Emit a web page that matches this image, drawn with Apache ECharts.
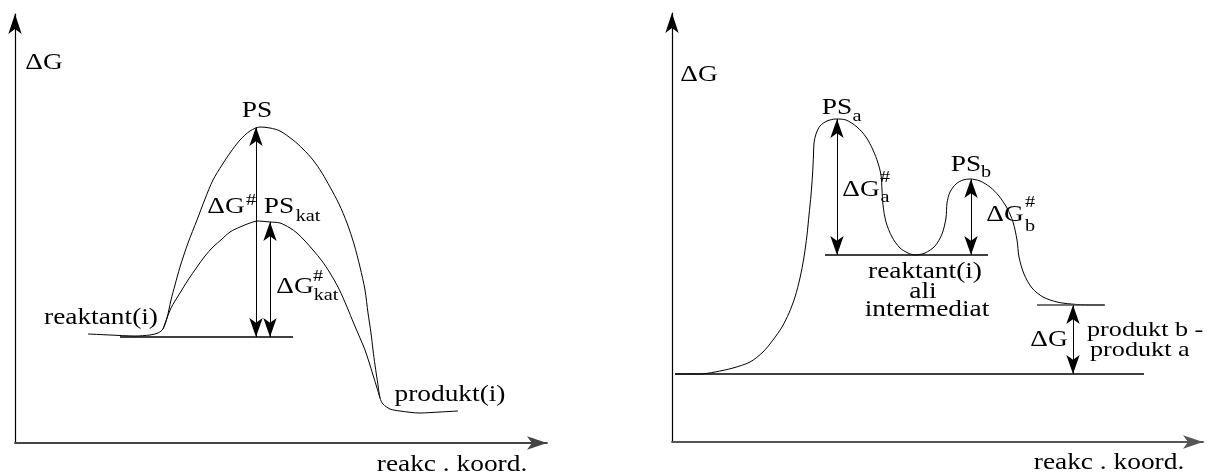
<!DOCTYPE html>
<html><head><meta charset="utf-8">
<script src="https://cdn.jsdelivr.net/npm/echarts@6/dist/echarts.min.js"></script>
<style>html,body{margin:0;padding:0;background:#fff}#c{width:1211px;height:473px}</style>
</head><body><div id="c"></div>
<script>
// ---------- DATA (arbitrary units: reaction coordinate, ΔG) ----------
// Left panel: uncatalysed vs catalysed profile
const uncatalysedProfile = [
  [7.3,10.9],[9.5,10.8],[12.0,10.7],[13.5,10.8],[14.3,11.0],[14.8,11.4],[15.2,12.5],[15.6,14.3],
  [16.0,15.8],[16.5,17.6],[17.3,20.0],[18.2,22.3],[19.0,24.4],[19.8,26.3],[20.7,27.8],[21.5,29.0],
  [22.5,30.3],[23.5,31.2],[24.5,31.6],[25.5,31.5],[26.5,31.2],[27.8,30.3],[28.8,29.4],[29.8,28.3],
  [30.7,27.0],[31.5,25.6],[32.4,23.9],[33.2,22.0],[33.9,19.9],[34.5,17.6],[35.0,15.3],[35.3,13.0],
  [35.6,11.0],[35.8,9.3],[36.0,7.8],[36.3,5.8],[36.5,4.5],[36.8,3.9],[37.5,3.4],[38.5,3.2],
  [40.5,3.0],[42.5,3.1],[44.3,3.2]
];
const catalysedProfile = [
  [14.8,11.4],[15.2,12.5],[15.6,13.5],[16.0,14.2],[16.5,15.0],[17.3,16.3],[18.2,17.6],[19.0,18.7],
  [19.8,19.6],[20.7,20.4],[21.5,21.1],[22.5,21.6],[23.5,22.0],[24.3,22.2],[25.5,22.1],[26.5,22.0],
  [27.5,21.5],[28.2,21.0],[29.0,20.2],[29.8,19.3],[30.7,18.2],[31.5,17.0],[32.4,15.4],[33.2,13.6],
  [33.9,11.9],[34.5,10.5],[35.0,9.3],[35.4,8.1],[35.8,6.8],[36.2,5.5],[36.5,4.5]
];
const leftReactantLevel = [[10.5,10.6],[27.8,10.6]];
const leftBarriers = [
  {name:'ΔG#',    x:24.1, from:10.6, to:31.6},
  {name:'ΔG#kat', x:25.5, from:10.6, to:22.1}
];

// Right panel: two-step profile
const twoStepProfile = [
  [0.3,6.8],[2.8,6.8],[4.3,7.0],[6.1,7.4],[7.8,8.0],[9.1,9.0],[10.1,10.2],[11.0,11.5],[11.7,12.9],
  [12.3,14.5],[12.8,16.4],[13.2,18.5],[13.5,20.7],[13.7,22.7],[13.9,24.7],[14.05,26.7],[14.15,28.7],
  [14.2,29.9],[14.4,30.8],[14.8,31.6],[15.5,32.1],[16.4,32.3],[17.4,32.2],[18.5,31.5],[19.4,30.5],
  [20.1,29.2],[20.6,27.9],[20.9,26.7],[21.0,25.2],[21.1,23.7],[21.4,22.0],[22.0,20.5],[22.8,19.4],
  [23.6,18.9],[24.3,18.7],[25.3,18.9],[26.3,19.6],[27.0,20.8],[27.4,22.4],[27.5,23.9],[27.8,25.0],
  [28.4,25.8],[29.1,26.2],[29.8,26.3],[30.8,26.1],[31.8,25.5],[32.7,24.6],[33.5,23.4],[34.1,22.0],
  [34.5,20.2],[34.7,18.5],[35.2,16.8],[36.0,15.4],[37.1,14.5],[38.5,14.0],[39.9,13.8],[41.8,13.7],
  [43.2,13.7]
];
const productALevel = [[0.3,6.8],[47.2,6.8]];
const intermediateLevel = [[15.3,18.7],[31.6,18.7]];
const productBLevel = [[36.5,13.7],[43.3,13.7]];
const rightBarriers = [
  {name:'ΔG#a', x:16.5, from:18.7, to:32.3},
  {name:'ΔG#b', x:29.9, from:18.7, to:26.3},
  {name:'ΔG',   x:40.1, from:6.8,  to:13.7}
];

// ---------- ANNOTATION LAYOUT (text, anchor in data units) ----------
const annotations = [
  {p:0, t:'ΔG', at:[2.9,38.0]},
  {p:0, t:'PS', at:[24.2,33.2]},
  {p:0, t:'ΔG', at:[21.1,23.6]}, {p:0, t:'#', at:[23.6,24.2], s:1},
  {p:0, t:'PS', at:[26.4,23.6]}, {p:0, t:'kat', at:[29.3,22.6], s:1},
  {p:0, t:'ΔG', at:[28.0,15.6]}, {p:0, t:'#', at:[30.3,16.6], s:1}, {p:0, t:'kat', at:[31.1,14.7], s:1},
  {p:0, t:'reaktant(i)', at:[8.6,12.5]},
  {p:0, t:'produkt(i)', at:[43.5,4.8]},
  {p:0, t:'reakc . koord.', at:[43.7,-2.2]},
  {p:1, t:'ΔG', at:[2.7,36.7]},
  {p:1, t:'PS', at:[16.5,33.4]}, {p:1, t:'a', at:[18.5,32.5], s:1},
  {p:1, t:'ΔG', at:[18.9,25.2]}, {p:1, t:'#', at:[21.3,26.4], s:1}, {p:1, t:'a', at:[21.3,24.4], s:1},
  {p:1, t:'PS', at:[29.4,27.7]}, {p:1, t:'b', at:[31.4,26.9], s:1},
  {p:1, t:'ΔG', at:[33.3,22.7]}, {p:1, t:'#', at:[35.8,23.9], s:1}, {p:1, t:'b', at:[35.8,21.5], s:1},
  {p:1, t:'reaktant(i)', at:[25.3,17.0]},
  {p:1, t:'ali', at:[25.1,15.0]},
  {p:1, t:'intermediat', at:[25.5,13.2]},
  {p:1, t:'ΔG', at:[37.7,10.2]},
  {p:1, t:'produkt b -', at:[41.5,11.2], left:1, m:1},
  {p:1, t:'produkt a', at:[41.8,9.2], left:1, m:1},
  {p:1, t:'reakc . koord.', at:[43.7,-2.1]}
];

// ---------- CHART ----------
const FONT_FAMILY = 'Liberation Serif';
const STRETCH = 1.19;
const chart = echarts.init(document.getElementById('c'));

function axis(gi, max, color, width) {
  return {
    type:'value', gridIndex:gi, min:0, max:max,
    axisLine:{show:true, onZero:false, symbol:['none','arrow'], symbolSize:[10,20],
      lineStyle:{color:color, width:width}},
    axisTick:{show:false}, axisLabel:{show:false}, splitLine:{show:false}
  };
}
function curve(data, gi, width, color) {
  return {type:'line', xAxisIndex:gi, yAxisIndex:gi, data:data, smooth:0.3,
    symbol:'none', showSymbol:false, silent:true,
    lineStyle:{color:color||'#000', width:width||1}};
}
function arrows(list, gi) {
  return {type:'lines', coordinateSystem:'cartesian2d', xAxisIndex:gi, yAxisIndex:gi,
    symbol:['arrow','arrow'], symbolSize:[[10,19],[10,19]], silent:true,
    lineStyle:{color:'#000', width:1, opacity:1, curveness:0},
    data:list.map(a => ({name:a.name, coords:[[a.x,a.from],[a.x,a.to]]}))};
}

chart.setOption({
  animation:false,
  backgroundColor:'#fff',
  grid:[
    {left:15, top:14, width:532, height:429},
    {left:672, top:13, width:531, height:429}
  ],
  xAxis:[axis(0,53.2,'#444',1.8), axis(1,53.1,'#555',1.8)],
  yAxis:[axis(0,42.9,'#000',1.2), axis(1,42.9,'#000',1.2)],
  series:[
    curve(uncatalysedProfile,0,1),
    curve(catalysedProfile,0,1),
    curve(leftReactantLevel,0,1.5),
    arrows(leftBarriers,0),
    curve(twoStepProfile,1,1),
    curve(productALevel,1,1.3),
    curve(intermediateLevel,1,1.5),
    curve(productBLevel,1,1.3,'#444'),
    arrows(rightBarriers,1)
  ]
});

const graphics = annotations.map(a => {
  const px = chart.convertToPixel({gridIndex:a.p}, a.at);
  const size = a.s ? 17 : (a.m ? 22 : 23);
  return {type:'text', x:px[0], y:px[1], scaleX:STRETCH, silent:true, z:100,
    style:{text:a.t, fontFamily:FONT_FAMILY, fontSize:size, fill:'#000',
      align:a.left?'left':'center', verticalAlign:'middle'}};
});
chart.setOption({graphic:graphics});
</script></body></html>
